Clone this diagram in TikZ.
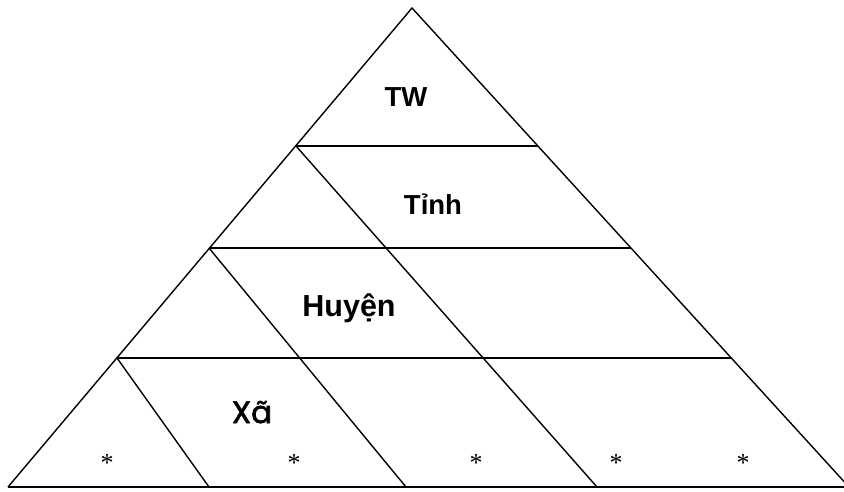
\documentclass[tikz,border=0pt]{standalone}
\usepackage{fontspec}
\setmainfont{Liberation Sans}
\newfontfamily\levelfont{Liberation Sans}
\newfontfamily\roundfont[FakeBold=2.2]{Poppins}
\newfontfamily\starfont{Liberation Serif}
\begin{document}
\begin{tikzpicture}[x=1pt,y=-1pt,
  edge/.style={line width=1.4pt,line join=miter},
  baseedge/.style={line width=2.2pt},
  level/.style={inner sep=0pt,anchor=base,font=\levelfont\bfseries},
  star/.style={inner sep=0pt,anchor=base,font=\starfont\fontsize{26}{26}\selectfont}]
\useasboundingbox (0,0) rectangle (844,491);
% outer triangle corners
\coordinate (A) at (412,8);
\coordinate (L) at (8,487);
\coordinate (R) at (849,487);
% ends of the horizontal level lines
\coordinate (h1l) at (296,146);  \coordinate (h1r) at (538,146);
\coordinate (h2l) at (209,248);  \coordinate (h2r) at (631,248);
\coordinate (h3l) at (117,358);  \coordinate (h3r) at (732,358);
% feet of the inner slanted lines on the base
\coordinate (b1) at (209,487);
\coordinate (b2) at (406,487);
\coordinate (b3) at (597,487);
% outline
\draw[edge] (L) -- (A) -- (R);
\draw[baseedge] (L) -- (R);
% level lines
\draw[edge] (h1l) -- (h1r);
\draw[edge] (h2l) -- (h2r);
\draw[edge] (h3l) -- (h3r);
% slanted dividers
\draw[edge] (h3l) -- (b1);
\draw[edge] (h2l) -- (b2);
\draw[edge] (h1l) -- (b3);
% level labels
\node[level,font=\levelfont\bfseries\fontsize{27.5}{27.5}\selectfont] (tw) at (406,106) {TW};
\node[level,font=\levelfont\bfseries\fontsize{27.5}{27.5}\selectfont] (tinh) at (433,214) {Tỉnh};
\node[level,font=\levelfont\bfseries\fontsize{30.5}{30.5}\selectfont] (huyen) at (349,316) {Huyện};
\node[level,font=\roundfont\fontsize{31}{31}\selectfont] (xa) at (252,423) {Xã};
% asterisks along the bottom row
\node[star] (s1) at (107,471) {*};
\node[star] (s2) at (294,471) {*};
\node[star] (s3) at (476,471) {*};
\node[star] (s4) at (616,471) {*};
\node[star] (s5) at (743,471) {*};
\end{tikzpicture}
\end{document}
